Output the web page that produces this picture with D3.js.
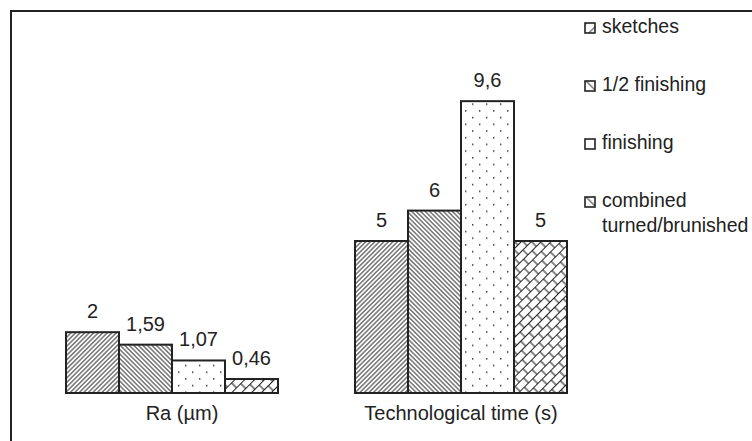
<!DOCTYPE html>
<html>
<head>
<meta charset="UTF-8">
<script src="https://d3js.org/d3.v7.min.js"></script>
<style>
  html, body { margin: 0; padding: 0; background: #fff; }
  svg text { font-family: "Liberation Sans", Arial, sans-serif; fill: #222; }
</style>
</head>
<body>
<div id="chart"></div>
<script>
  // data
  var groups = ["Ra (µm)", "Technological time (s)"];
  var series = ["sketches", "1/2 finishing", "finishing", "combined turned/brunished"];
  var raValues = [2, 1.59, 1.07, 0.46];
  var timeValues = [5, 6, 9.6, 5];
  var valueLabels = [["2", "1,59", "1,07", "0,46"], ["5", "6", "9,6", "5"]];

  var width = 752, height = 441, ink = "#222";

  var rows = [];
  [raValues, timeValues].forEach(function(vals, gi) {
    vals.forEach(function(v, si) {
      rows.push({ group: groups[gi], series: series[si], value: v, label: valueLabels[gi][si] });
    });
  });

  var svg = d3.select("#chart").append("svg")
    .attr("width", width).attr("height", height);

  // hatch patterns
  var defs = svg.append("defs");
  function hatch(id, angle, step) {
    var p = defs.append("pattern").attr("id", id)
      .attr("patternUnits", "userSpaceOnUse")
      .attr("width", step).attr("height", 10)
      .attr("patternTransform", "rotate(" + angle + ")");
    p.append("line").attr("x1", 0.8).attr("x2", 0.8).attr("y1", 0).attr("y2", 10)
      .attr("stroke", ink).attr("stroke-width", 0.95);
  }
  hatch("p0", 45, 3.2);
  hatch("p1", -45, 3.2);
  hatch("l0", 45, 9);
  hatch("l1", -45, 9);
  var dots = defs.append("pattern").attr("id", "p2")
    .attr("patternUnits", "userSpaceOnUse").attr("width", 14).attr("height", 13.4);
  dots.append("rect").attr("x", 3).attr("y", 3).attr("width", 1.4).attr("height", 1.4).attr("fill", ink);
  dots.append("rect").attr("x", 10).attr("y", 9.7).attr("width", 1.4).attr("height", 1.4).attr("fill", ink);
  var brick = defs.append("pattern").attr("id", "p3")
    .attr("patternUnits", "userSpaceOnUse").attr("width", 12).attr("height", 14)
    .attr("patternTransform", "rotate(-45)");
  brick.append("path")
    .attr("d", "M0,0.5H12M0,7.5H12M1,0.5V7.5M7,7.5V14")
    .attr("stroke", ink).attr("stroke-width", 1.1).attr("fill", "none");
  var fills = ["url(#p0)", "url(#p1)", "url(#p2)", "url(#p3)"];
  var legendFills = ["url(#l0)", "url(#l1)", "#fff", "url(#l1)"];

  // frame (runs off the right and bottom edge)
  svg.append("rect").attr("x", 11).attr("y", 11)
    .attr("width", 780).attr("height", 480)
    .attr("fill", "none").attr("stroke", ink).attr("stroke-width", 2);

  var x0 = d3.scalePoint().domain(groups).range([172, 461]);
  var x1 = d3.scaleBand().domain(series).range([-106, 106]).padding(0);
  var y = d3.scaleLinear().domain([0, 10]).range([393, 89]);

  var bars = svg.append("g");
  bars.selectAll("rect").data(rows).enter().append("rect")
    .attr("x", function(d) { return x0(d.group) + x1(d.series); })
    .attr("y", function(d) { return y(d.value); })
    .attr("width", x1.bandwidth())
    .attr("height", function(d) { return y(0) - y(d.value); })
    .attr("fill", function(d) { return fills[series.indexOf(d.series)]; })
    .attr("stroke", ink).attr("stroke-width", 2);

  svg.append("g").selectAll("text").data(rows).enter().append("text")
    .attr("x", function(d) { return x0(d.group) + x1(d.series) + x1.bandwidth() / 2; })
    .attr("y", function(d) { return y(d.value) - 14; })
    .attr("text-anchor", "middle")
    .style("font-size", "20px")
    .text(function(d) { return d.label; });

  svg.append("g").selectAll("text").data(groups).enter().append("text")
    .attr("x", function(d, i) { return x0(d) + (i === 0 ? 10 : 0); })
    .attr("y", 420)
    .attr("text-anchor", "middle")
    .style("font-size", "20px")
    .text(function(d) { return d; });

  // legend
  var legend = svg.append("g").selectAll("g").data(series).enter().append("g")
    .attr("transform", function(d, i) { return "translate(585," + (23 + i * 58) + ")"; });
  legend.append("rect").attr("width", 10).attr("height", 10)
    .attr("fill", function(d, i) { return legendFills[i]; })
    .attr("stroke", ink).attr("stroke-width", 1.6);
  legend.append("text")
    .attr("x", 17).attr("y", 10)
    .style("font-size", "19.5px")
    .each(function(d) {
      var t = d3.select(this), cut = d.indexOf(" ");
      if (d.length > 16) {
        t.append("tspan").attr("x", 17).text(d.slice(0, cut));
        t.append("tspan").attr("x", 17).attr("dy", 25).text(d.slice(cut + 1));
      } else {
        t.text(d);
      }
    });
</script>
</body>
</html>
